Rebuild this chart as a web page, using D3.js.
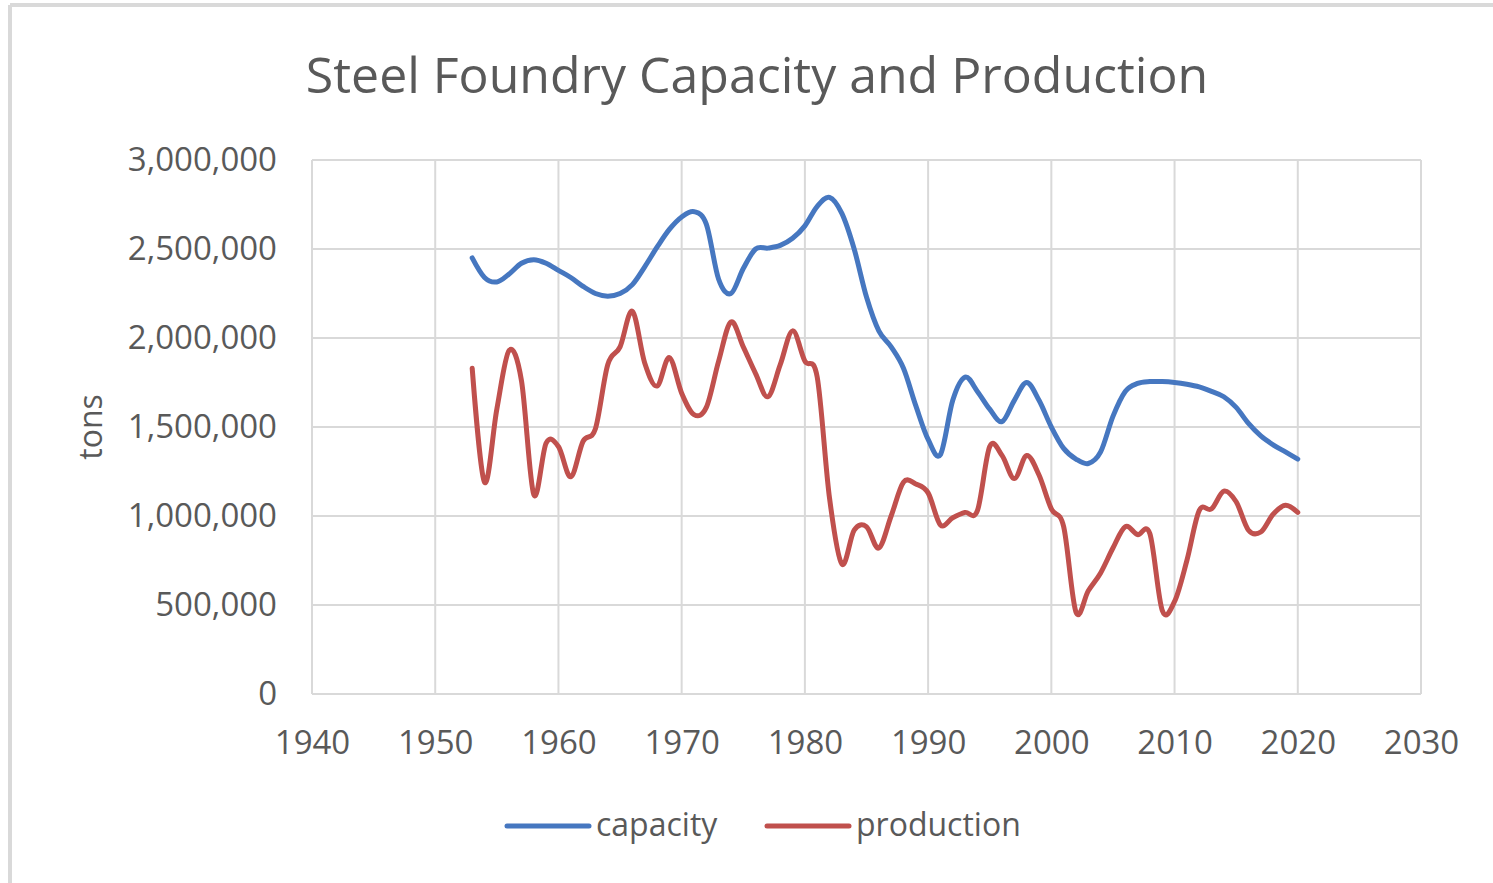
<html>
  <head>
    <meta charset="utf-8" />
    <script src="https://d3js.org/d3.v7.min.js"></script>
    <style>
      body {
        margin: 0;
        background: #fff;
      }
      text {
        font-family: "Open Sans", sans-serif;
        fill: #595959;
      }
    </style>
  </head>
  <body>
    <svg id="chart" width="1493" height="883"></svg>
    <script>
      // chart data
      var years = d3.range(1953, 2021);

      var capacity = [
        2450000, 2340000, 2315000, 2360000, 2420000, 2440000, 2420000, 2380000,
        2340000, 2290000, 2250000, 2235000, 2250000, 2300000, 2400000, 2510000,
        2610000, 2680000, 2710000, 2640000, 2330000, 2250000, 2390000, 2500000,
        2505000, 2520000, 2560000, 2630000, 2740000, 2790000, 2700000, 2500000,
        2230000, 2040000, 1950000, 1830000, 1620000, 1430000, 1345000, 1650000,
        1780000, 1700000, 1600000, 1530000, 1650000, 1750000, 1650000, 1500000,
        1380000, 1320000, 1295000, 1360000, 1560000, 1700000, 1745000, 1755000,
        1755000, 1750000, 1740000, 1725000, 1700000, 1670000, 1610000, 1520000,
        1450000, 1400000, 1360000, 1320000
      ];

      var production = [
        1830000, 1190000, 1600000, 1930000, 1760000, 1120000, 1410000, 1390000,
        1220000, 1420000, 1490000, 1850000, 1950000, 2150000, 1860000, 1730000,
        1890000, 1690000, 1570000, 1610000, 1870000, 2090000, 1950000, 1800000,
        1670000, 1850000, 2040000, 1870000, 1780000, 1100000, 730000, 920000,
        940000, 820000, 1000000, 1190000, 1180000, 1130000, 950000, 990000,
        1020000, 1030000, 1390000, 1340000, 1210000, 1340000, 1230000, 1040000,
        940000, 460000, 580000, 680000, 820000, 940000, 895000, 900000,
        470000, 520000, 750000, 1030000, 1040000, 1140000, 1080000, 920000,
        910000, 1010000, 1060000, 1020000
      ];

      var xTicks = d3.range(1940, 2031, 10);
      var yTicks = d3.range(0, 3000001, 500000);
      var seriesNames = ["capacity", "production"];
      var seriesColors = ["#4677c0", "#c0504d"];

      var svg = d3.select("#chart"),
        margin = { top: 160, right: 72, bottom: 189, left: 312 },
        width = +svg.attr("width"),
        height = +svg.attr("height");

      var x = d3.scaleLinear().domain([1940, 2030]).range([margin.left, width - margin.right]);
      var y = d3.scaleLinear().domain([0, 3000000]).range([height - margin.bottom, margin.top]);

      // outer frame (top and left edges visible)
      svg.append("line").attr("x1", 10).attr("x2", width).attr("y1", 5).attr("y2", 5)
        .attr("stroke", "#d9d9d9").attr("stroke-width", 4);
      svg.append("line").attr("x1", 10).attr("x2", 10).attr("y1", 5).attr("y2", height)
        .attr("stroke", "#d9d9d9").attr("stroke-width", 4);

      // title
      svg.append("text")
        .attr("x", 757)
        .attr("y", 93)
        .attr("text-anchor", "middle")
        .style("font-size", "50px")
        .text("Steel Foundry Capacity and Production");

      // grid
      var grid = svg.append("g").attr("stroke", "#d9d9d9").attr("stroke-width", 2);
      grid.selectAll(".h").data(yTicks).enter().append("line")
        .attr("x1", x(1940)).attr("x2", x(2030))
        .attr("y1", (d) => y(d)).attr("y2", (d) => y(d));
      grid.selectAll(".v").data(xTicks).enter().append("line")
        .attr("y1", y(0)).attr("y2", y(3000000))
        .attr("x1", (d) => x(d)).attr("x2", (d) => x(d));

      // axes
      svg.append("g")
        .attr("transform", "translate(" + x(1940) + ",0)")
        .call(d3.axisLeft(y).tickValues(yTicks).tickFormat(d3.format(",")).tickSize(0).tickPadding(35));
      svg.append("g")
        .attr("transform", "translate(0," + y(0) + ")")
        .call(d3.axisBottom(x).tickValues(xTicks).tickFormat(d3.format("d")).tickSize(0).tickPadding(37));
      svg.selectAll(".domain").remove();
      svg.selectAll(".tick text")
        .style("font-size", "33px")
        .style("font-family", "'Open Sans', sans-serif")
        .attr("fill", "#595959");

      svg.append("text")
        .attr("transform", "translate(102," + (margin.top + height - margin.bottom) / 2 + ") rotate(-90)")
        .attr("text-anchor", "middle")
        .style("font-size", "32px")
        .text("tons");

      // lines
      var line = d3.line()
        .x((d) => x(d[0]))
        .y((d) => y(d[1]))
        .curve(d3.curveCardinal.tension(0));

      [capacity, production].forEach(function (vals, i) {
        svg.append("path")
          .datum(years.map((yr, j) => [yr, vals[j]]))
          .attr("fill", "none")
          .attr("stroke", seriesColors[i])
          .attr("stroke-width", 5)
          .attr("stroke-linecap", "round")
          .attr("d", line);
      });

      // legend
      var legendX = [507, 767];
      var legend = svg.selectAll(".legend").data(seriesNames).enter().append("g")
        .attr("transform", (d, i) => "translate(" + legendX[i] + ",826)");
      legend.append("line")
        .attr("x1", 0).attr("x2", 82)
        .attr("stroke", (d, i) => seriesColors[i])
        .attr("stroke-width", 5)
        .attr("stroke-linecap", "round");
      legend.append("text")
        .attr("x", 89)
        .attr("y", 10)
        .style("font-size", "32px")
        .text((d) => d);
    </script>
  </body>
</html>
